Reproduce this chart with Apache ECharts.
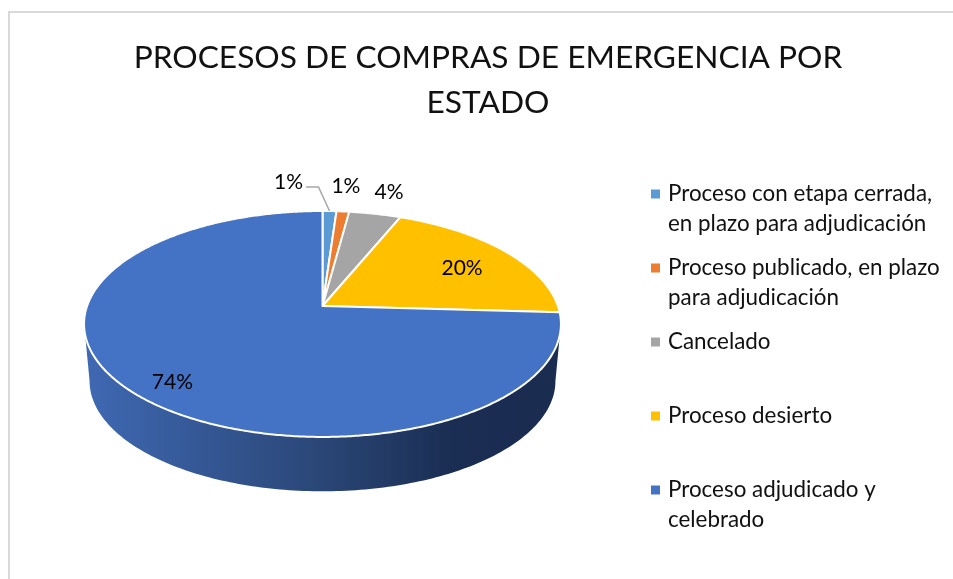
<!DOCTYPE html>
<html>
<head>
<meta charset="utf-8">
<style>
  html, body { margin: 0; padding: 0; background: #fff; }
  #main { width: 953px; height: 579px; }
</style>
<script src="https://cdn.jsdelivr.net/npm/echarts@6/dist/echarts.min.js"></script>
</head>
<body>
<div id="main"></div>
<script>
var titleText = "PROCESOS DE COMPRAS DE EMERGENCIA POR\nESTADO";
var categories = [
  "Proceso con etapa cerrada, en plazo para adjudicación",
  "Proceso publicado, en plazo para adjudicación",
  "Cancelado",
  "Proceso desierto",
  "Proceso adjudicado y celebrado"
];
// how each legend entry breaks, top line then second line
var legendLines = [
  ["Proceso con etapa cerrada,", "en plazo para adjudicación"],
  ["Proceso publicado, en plazo", "para adjudicación"],
  ["Cancelado", " "],
  ["Proceso desierto", " "],
  ["Proceso adjudicado y", "celebrado"]
];
var shares = [1.1, 1.0, 4.1, 19.7, 74.1];
var colors = ["#5B9BD5", "#ED7D31", "#A5A5A5", "#FFC000", "#4472C4"];

// label placement relative to the rim point at the middle of each slice
var labelShift = [[-41, -29], [3, -25], [14, -22], [-44, 16], [42, -9]];
var leaderShift = [[[-11, -24], [-23.5, -24]], null, null, null, null];

// perspective pie: apex, radii and tilt
var apexX = 322.5, apexY = 306, radX = 235.4, radY = 110.1, tilt = 0.159;
var wallDrop = 57, wallScale = 0.977, faceMidY = 324;
var wallFrom = 99, wallTo = 261;

function rim(deg) {
  var a = deg * Math.PI / 180;
  var w = 1 + tilt * Math.cos(a);
  return [apexX + radX * Math.sin(a) / w, apexY - radY * Math.cos(a) / w];
}
function rimBottom(deg) {
  var p = rim(deg);
  return [apexX + (p[0] - apexX) * wallScale, faceMidY + wallDrop + (p[1] - faceMidY) * wallScale];
}

var total = shares.reduce(function (s, v) { return s + v; }, 0);

function makeRender(idx) {
  return function (params, api) {
    var before = 0;
    for (var i = 0; i < idx; i++) before += shares[i];
    var value = api.value(0);
    var from = before / total * 360;
    var to = (before + value) / total * 360;
    var children = [];

    // side wall, only where the slice faces the viewer
    var wa = Math.max(from, wallFrom), wb = Math.min(to, wallTo);
    if (wb > wa) {
      var wall = [], back = [];
      for (var d = wa; d <= wb; d += 1) {
        wall.push(rim(d));
        back.unshift(rimBottom(d));
      }
      children.push({
        type: "polygon",
        shape: { points: wall.concat(back) },
        style: {
          fill: new echarts.graphic.LinearGradient(0, 0, 1, 0, [
            { offset: 0, color: "#3F69B3" },
            { offset: 0.5, color: "#2A4676" },
            { offset: 0.78, color: "#1A2D52" },
            { offset: 1, color: "#1A2C50" }
          ])
        }
      });
    }

    // top face
    var pts = [[apexX, apexY]];
    for (var t = from; t < to; t += 0.5) pts.push(rim(t));
    pts.push(rim(to));
    children.push({
      type: "polygon",
      shape: { points: pts },
      style: { fill: colors[idx], stroke: "#fff", lineWidth: 2, lineJoin: "round" }
    });

    // label and leader
    var mid = rim((from + to) / 2);
    var shift = labelShift[idx];
    if (leaderShift[idx]) {
      children.push({
        type: "polyline",
        shape: {
          points: [mid].concat(leaderShift[idx].map(function (s) {
            return [mid[0] + s[0], mid[1] + s[1]];
          }))
        },
        style: { stroke: "#A6A6A6", lineWidth: 1.5, fill: null }
      });
    }
    children.push({
      type: "text",
      style: {
        text: Math.round(value) + "%",
        x: mid[0] + shift[0],
        y: mid[1] + shift[1],
        align: "center",
        verticalAlign: "middle",
        fontFamily: "Lato",
        fontSize: 21,
        fill: "#000"
      }
    });
    return { type: "group", children: children };
  };
}

var series = categories.map(function (name, i) {
  return {
    type: "custom",
    name: name,
    coordinateSystem: "none",
    silent: true,
    animation: false,
    itemStyle: { color: colors[i] },
    renderItem: makeRender(i),
    data: [[shares[i]]]
  };
});

var chart = echarts.init(document.getElementById("main"));
chart.setOption({
  backgroundColor: "#fff",
  animation: false,
  title: {
    text: titleText,
    left: 483,
    top: 30,
    textAlign: "center",
    textStyle: {
      fontFamily: "Lato",
      fontWeight: "normal",
      fontSize: 31.7,
      lineHeight: 45,
      color: "#111"
    }
  },
  legend: {
    orient: "vertical",
    left: 651,
    top: 149,
    padding: 0,
    itemGap: -16,
    itemWidth: 9,
    itemHeight: 9,
    icon: "rect",
    selectedMode: false,
    data: categories,
    // blank first line keeps the marker level with the top line of text
    formatter: function (name) {
      var lines = legendLines[categories.indexOf(name)];
      return " \n" + lines[0] + "\n" + lines[1];
    },
    textStyle: {
      fontFamily: "Lato",
      fontSize: 22.4,
      lineHeight: 30,
      color: "#111",
      padding: [0, 0, 0, 3]
    }
  },
  graphic: [
    {
      type: "polyline",
      silent: true,
      shape: { points: [[9, 579], [9, 12], [953, 12]] },
      style: { stroke: "#D9D9D9", lineWidth: 2, fill: null }
    }
  ],
  series: series
});
</script>
</body>
</html>
